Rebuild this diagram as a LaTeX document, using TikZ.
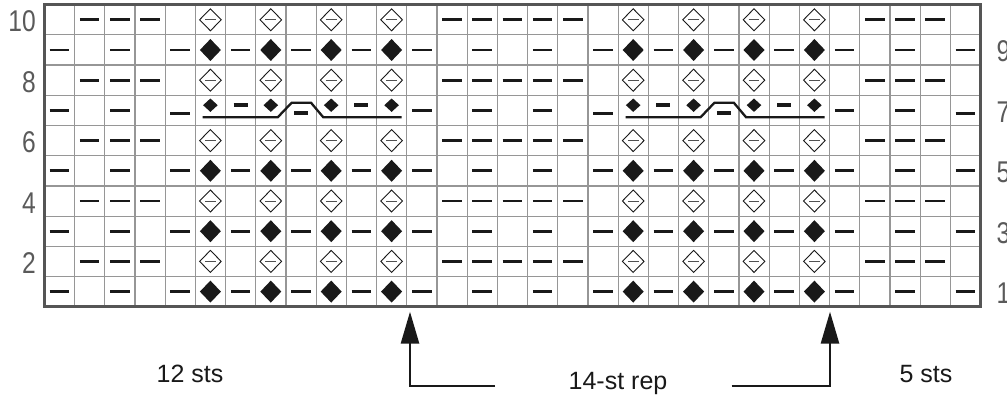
\documentclass[tikz,border=0pt]{standalone}
\usepackage{fontspec}
\usepackage{graphicx}
\setmainfont{Liberation Sans}
\usetikzlibrary{arrows.meta}
\definecolor{gridc}{RGB}{150,150,150}
\definecolor{bordc}{RGB}{85,85,85}
\definecolor{numc}{RGB}{90,90,90}
\definecolor{ink}{RGB}{25,25,25}
\definecolor{innerc}{RGB}{80,80,80}
\tikzset{
 dashsym/.style={line width=2.8pt, draw=ink},
 smalldash/.style={line width=4pt, draw=ink},
 fulldia/.style={fill=ink, draw=none},
 opendia/.style={draw=ink, line width=0.9pt, fill=white},
 innerline/.style={draw=innerc, line width=0.8pt},
 cable/.style={line width=2.3pt, draw=ink, line join=miter},
 gridline/.style={draw=gridc, line width=1.2pt},
 border/.style={draw=bordc, line width=2.8pt},
 rownum/.style={font=\fontsize{30}{30}\selectfont, text=numc, inner sep=0pt},
 stslabel/.style={font=\fontsize{25}{30}\selectfont, text=ink, inner sep=0pt, anchor=base},
 reparrow/.style={line width=2.7pt, draw=ink, line join=miter, -{Triangle[length=32pt,width=18pt]}},
}
\newcommand\kx[1]{44.3+30.2*(#1+0.5)}
\newcommand\kdash[2]{\draw[dashsym] ({\kx{#1}-9.8},#2) -- ({\kx{#1}+9.8},#2);}
\newcommand\ksdash[2]{\draw[smalldash] ({\kx{#1}-7},#2) -- ({\kx{#1}+7},#2);}
\newcommand\kfull[2]{\fill[fulldia] ({\kx{#1}},{#2-11}) -- ({\kx{#1}+10.5},#2) -- ({\kx{#1}},{#2+11}) -- ({\kx{#1}-10.5},#2) -- cycle;}
\newcommand\ksfull[2]{\fill[fulldia] ({\kx{#1}},{#2-6.7}) -- ({\kx{#1}+7.3},#2) -- ({\kx{#1}},{#2+6.7}) -- ({\kx{#1}-7.3},#2) -- cycle;}
\newcommand\kopen[2]{\draw[opendia] ({\kx{#1}},{#2-11}) -- ({\kx{#1}+10.8},#2) -- ({\kx{#1}},{#2+11}) -- ({\kx{#1}-10.8},#2) -- cycle;
 \draw[innerline] ({\kx{#1}-5.4},#2) -- ({\kx{#1}+5.4},#2);}
\begin{document}
\begin{tikzpicture}[x=1pt,y=-1pt]
\useasboundingbox (0,0) rectangle (1007,396);
\clip (0,0) rectangle (1007,396);
\fill[white] (0,0) rectangle (1007,396);
% grid
\foreach \i in {1,...,30} \draw[gridline] ({44.3+30.2*\i},4.7) -- ({44.3+30.2*\i},306.7);
\foreach \j in {1,...,9} \draw[gridline] (44.3,{4.7+30.2*\j}) -- (980.5,{4.7+30.2*\j});
% even rows (10,8,6,4,2)
\foreach \r in {0,2,4,6,8}{
  \pgfmathsetmacro\cy{4.7+30.2*(\r+0.5)}
  \foreach \c in {1,2,3,13,14,15,16,17,27,28,29} {\kdash{\c}{\cy}}
  \foreach \c in {5,7,9,11,19,21,23,25} {\kopen{\c}{\cy}}
}
% odd rows (9,5,3,1)
\foreach \r in {1,5,7,9}{
  \pgfmathsetmacro\cy{4.7+30.2*(\r+0.5)}
  \foreach \c in {0,2,4,6,8,10,12,14,16,18,20,22,24,26,28,30} {\kdash{\c}{\cy}}
  \foreach \c in {5,7,9,11,19,21,23,25} {\kfull{\c}{\cy}}
}
% row 7
\foreach \c in {0,2,12,14,16,26,28} {\kdash{\c}{110.4}}
\foreach \c in {4,18,30} {\kdash{\c}{113.4}}
\foreach \c in {5,7,9,11,19,21,23,25} {\ksfull{\c}{105.2}}
\foreach \c in {6,10,20,24} {\ksdash{\c}{105}}
\foreach \c in {8,22} {\ksdash{\c}{113.3}}
\foreach \s in {0,422.8}{
  \draw[cable] ({202.7+\s},117.3) -- ({277.7+\s},117.3) -- ({291.7+\s},102.7) -- ({311+\s},102.7) -- ({323.3+\s},117.3) -- ({401.7+\s},117.3);
}
% border
\draw[border] (44.3,4.7) rectangle (980.5,306.7);
% row numbers
\foreach \r/\n in {0/10,2/8,4/6,6/4,8/2}
  \node[rownum, anchor=base east] (L\n) at (36,{4.7+30.2*(\r+0.5)+12}) {\scalebox{0.82}[1]{\n}};
\foreach \r/\n in {1/9,3/7,5/5,7/3,9/1}
  \node[rownum, anchor=base west] (R\n) at (996.5,{4.7+30.2*(\r+0.5)+12}) {\scalebox{0.82}[1]{\n}};
% bottom labels
\node[stslabel] (s12) at (190,382) {12 sts};
\node[stslabel] (rep) at (618,389.3) {14-st rep};
\node[stslabel] (s5) at (926,382) {5 sts};
% repeat arrows
\coordinate (endL) at (495,386);
\coordinate (cornerL) at (410,386);
\coordinate (tipL) at (410,311.7);
\coordinate (endR) at (731.7,386);
\coordinate (cornerR) at (830,386);
\coordinate (tipR) at (830,311.7);
\draw[reparrow] (endL) -- (cornerL) -- (tipL);
\draw[reparrow] (endR) -- (cornerR) -- (tipR);
\end{tikzpicture}
\end{document}
